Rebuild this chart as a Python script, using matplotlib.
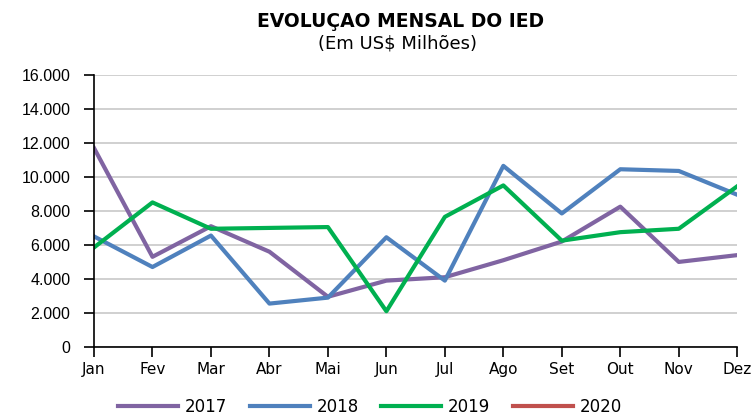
import matplotlib
matplotlib.use("Agg")
import matplotlib.pyplot as plt
from matplotlib.ticker import FuncFormatter

months = ["Jan", "Fev", "Mar", "Abr", "Mai", "Jun", "Jul", "Ago", "Set", "Out", "Nov", "Dez"]
v2017 = [11700, 5300, 7100, 5600, 2950, 3900, 4100, 5100, 6200, 8250, 5000, 5400]
v2018 = [6500, 4700, 6550, 2550, 2900, 6450, 3900, 10650, 7850, 10450, 10350, 8950]
v2019 = [5850, 8500, 6950, 7000, 7050, 2100, 7650, 9500, 6250, 6750, 6950, 9450]
v2020 = []
colors = {"2017": "#8064A2", "2018": "#4F81BD", "2019": "#00B050", "2020": "#C0504D"}

plt.rcParams['font.family'] = ['Liberation Sans', 'DejaVu Sans']
fig = plt.figure(figsize=(7.55, 4.16), dpi=100)
ax = fig.add_axes([0.1245, 0.166, 0.852, 0.654])

x = list(range(len(months)))
ax.plot(x, v2017, color=colors["2017"], lw=3, label="2017")
ax.plot(x, v2018, color=colors["2018"], lw=3, label="2018")
ax.plot(x, v2019, color=colors["2019"], lw=3, label="2019")
ax.plot(x[:len(v2020)], v2020, color=colors["2020"], lw=3, label="2020")

ax.set_xlim(0, 11)
ax.set_ylim(0, 16000)
ax.set_yticks(range(0, 16001, 2000))
ax.yaxis.set_major_formatter(FuncFormatter(lambda v, p: f"{int(v):,}".replace(",", ".")))
ax.set_xticks(x)
ax.set_xticklabels(months)
ax.grid(axis='y', color='#c8c8c8', lw=1.2)
ax.set_axisbelow(True)
for s in ["top", "right"]:
    ax.spines[s].set_visible(False)
for s in ["left", "bottom"]:
    ax.spines[s].set_color("black")
    ax.spines[s].set_linewidth(1.2)
ax.tick_params(axis='both', direction='out', length=7, width=1.2, labelsize=11.5, colors='black')
ax.tick_params(axis='x', pad=4)
ax.tick_params(axis='y', pad=10)
for lab in ax.get_xticklabels():
    lab.set_fontfamily(['DejaVu Sans'])
    lab.set_fontsize(11)

fig.text(0.53, 0.948, "EVOLUÇAO MENSAL DO IED", ha='center', va='center', fontsize=13.5,
         fontweight='bold', family=['DejaVu Sans'])
fig.text(0.527, 0.896, "(Em US$ Milhões)", ha='center', va='center', fontsize=13, family=['DejaVu Sans'])

fig.legend(loc='lower center', bbox_to_anchor=(0.49, -0.035), ncol=4, frameon=False,
           handlelength=3.6, columnspacing=1.35, handletextpad=0.4,
           prop={'family': ['DejaVu Sans'], 'size': 12})

fig.savefig("out.png", dpi=100)
